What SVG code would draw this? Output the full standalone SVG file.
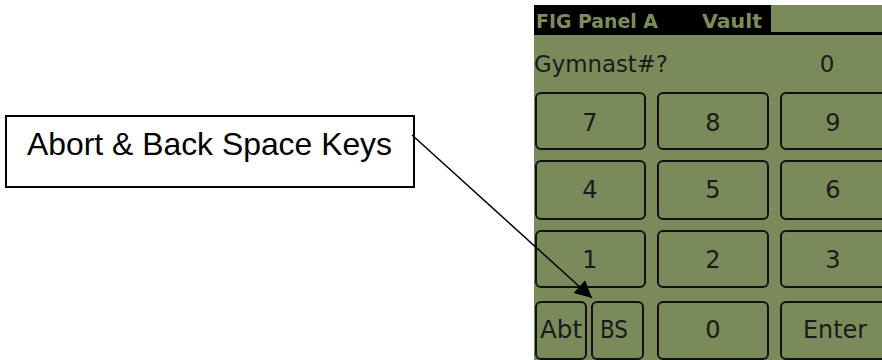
<svg xmlns="http://www.w3.org/2000/svg" width="882" height="360" viewBox="0 0 882 360">
  <style>
    .key { fill: none; stroke: #111; stroke-width: 2; }
    .klbl { font-family: "DejaVu Sans", sans-serif; font-size: 24px; fill: #1a1a1a; text-anchor: middle; }
    .hdr { font-family: "DejaVu Sans", sans-serif; font-weight: bold; font-size: 19px; fill: #7d8c5b; }
    .scr { font-family: "DejaVu Sans", sans-serif; font-size: 23px; fill: #1a1a1a; }
    .note { font-family: "Liberation Sans", Arial, sans-serif; font-size: 32px; fill: #000; }
  </style>
  <defs>
    <marker id="arrow" viewBox="0 0 10 10" refX="10" refY="5" markerWidth="18" markerHeight="17" markerUnits="userSpaceOnUse" orient="auto">
      <path d="M0,0 L10,5 L0,10 z" fill="#000"/>
    </marker>
  </defs>

  <rect width="882" height="360" fill="#fff"/>

  <!-- device screen -->
  <g id="screen">
    <rect x="534" y="5" width="348" height="355" fill="#7b8a5a"/>
    <rect x="534" y="5" width="236" height="30" fill="#000"/>
    <rect x="769" y="5" width="2" height="30" fill="#000"/>
    <rect x="769" y="32" width="113" height="3" fill="#000"/>
    <text class="hdr" x="536" y="28" textLength="122" lengthAdjust="spacingAndGlyphs">FIG Panel A</text>
    <text class="hdr" x="702" y="28" textLength="60" lengthAdjust="spacingAndGlyphs">Vault</text>
    <text class="scr" x="534" y="72" textLength="134" lengthAdjust="spacingAndGlyphs">Gymnast#?</text>
    <text class="scr" x="827" y="72" text-anchor="middle">0</text>
  </g>

  <!-- keypad -->
  <g id="key-7"><rect class="key" x="536" y="93" width="109" height="56" rx="5"/><text class="klbl" x="590" y="131">7</text></g>
  <g id="key-8"><rect class="key" x="658" y="93" width="110" height="56" rx="5"/><text class="klbl" x="713" y="131">8</text></g>
  <g id="key-9"><rect class="key" x="781" y="93" width="110" height="56" rx="5"/><text class="klbl" x="833" y="131">9</text></g>

  <g id="key-4"><rect class="key" x="536" y="161" width="109" height="58" rx="5"/><text class="klbl" x="590" y="198">4</text></g>
  <g id="key-5"><rect class="key" x="658" y="161" width="110" height="58" rx="5"/><text class="klbl" x="713" y="198">5</text></g>
  <g id="key-6"><rect class="key" x="781" y="161" width="110" height="58" rx="5"/><text class="klbl" x="833" y="198">6</text></g>

  <g id="key-1"><rect class="key" x="536" y="231" width="109" height="56" rx="5"/><text class="klbl" x="590" y="268">1</text></g>
  <g id="key-2"><rect class="key" x="658" y="231" width="110" height="56" rx="5"/><text class="klbl" x="713" y="268">2</text></g>
  <g id="key-3"><rect class="key" x="781" y="231" width="110" height="56" rx="5"/><text class="klbl" x="833" y="268">3</text></g>

  <g id="key-abt"><rect class="key" x="536" y="302" width="50" height="57" rx="5"/><text class="klbl" x="561" y="338" font-size="22" textLength="42" lengthAdjust="spacingAndGlyphs">Abt</text></g>
  <g id="key-bs"><rect class="key" x="592" y="302" width="51" height="57" rx="5"/><text class="klbl" x="614" y="338" font-size="20" textLength="28" lengthAdjust="spacingAndGlyphs">BS</text></g>
  <g id="key-0"><rect class="key" x="658" y="302" width="110" height="57" rx="5"/><text class="klbl" x="713" y="338">0</text></g>
  <g id="key-enter"><rect class="key" x="781" y="302" width="110" height="57" rx="5"/><text class="klbl" x="835" y="338" textLength="64" lengthAdjust="spacingAndGlyphs">Enter</text></g>

  <!-- callout -->
  <g id="callout">
    <rect x="6" y="116" width="408" height="71" fill="#fff" stroke="#000" stroke-width="2"/>
    <text class="note" x="27" y="155" textLength="365" lengthAdjust="spacingAndGlyphs">Abort &amp; Back Space Keys</text>
  </g>

  <g id="connectors">
    <line x1="412" y1="135" x2="592" y2="298" stroke="#000" stroke-width="1.5" marker-end="url(#arrow)"/>
  </g>
</svg>
